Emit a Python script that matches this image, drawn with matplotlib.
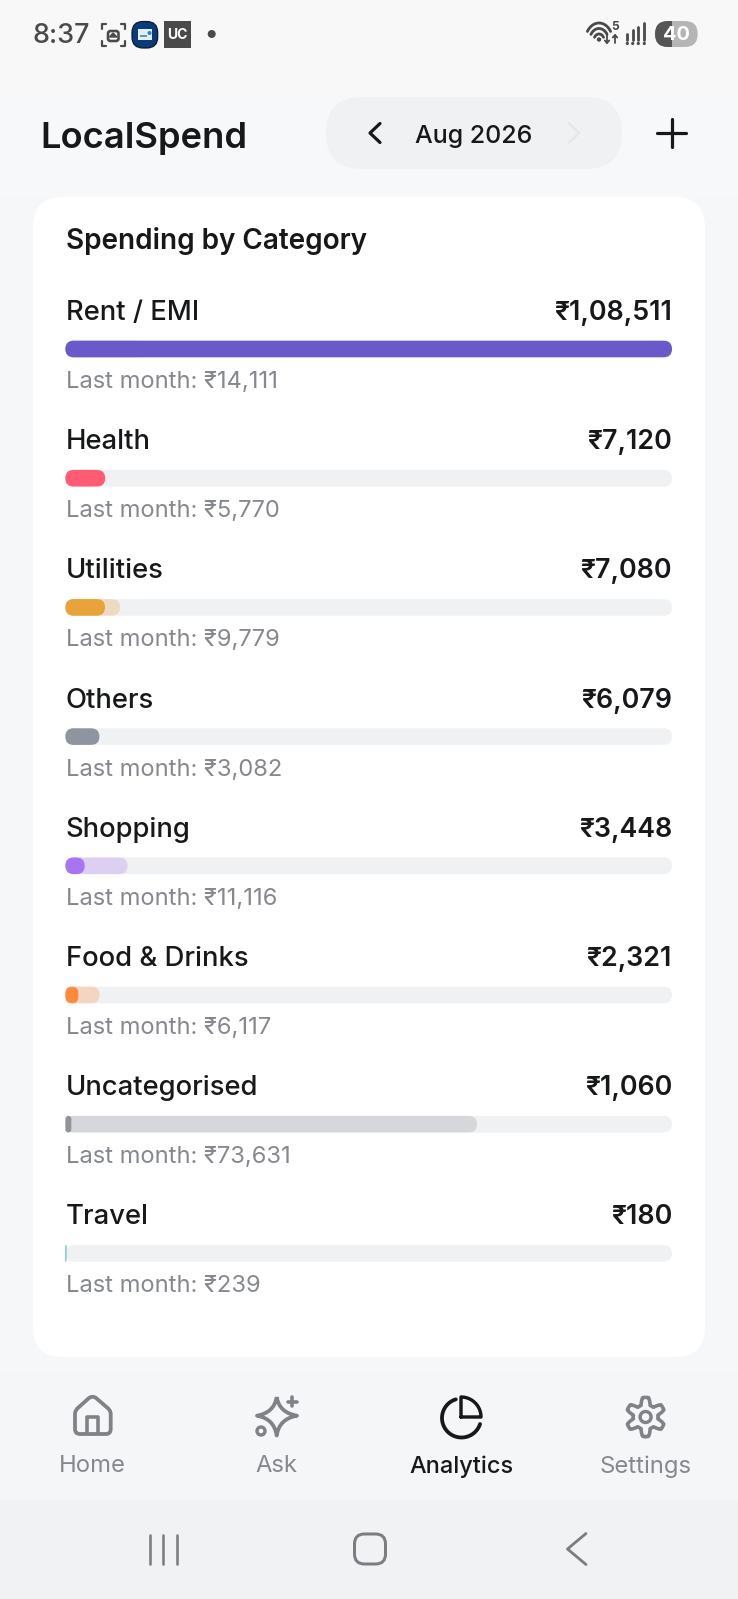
"""
LocalSpend analytics screen, spending by category
"""

import numpy as np
import matplotlib.pyplot as plt
from matplotlib.patches import Circle, FancyBboxPatch, PathPatch, Rectangle
from matplotlib.path import Path

# data
categories = ["Rent / EMI", "Health", "Utilities", "Others", "Shopping",
              "Food & Drinks", "Uncategorised", "Travel"]
this_month = [108511, 7120, 7080, 6079, 3448, 2321, 1060, 180]
last_month = [14111, 5770, 9779, 3082, 11116, 6117, 73631, 239]
bar_colors = ["#6a59c9", "#ff5c73", "#e8a33b", "#8f95a0", "#a974f0",
              "#ff8a3c", "#8f939c", "#5bbfc2"]
nav_labels = ["Home", "Ask", "Analytics", "Settings"]
nav_x = [92, 276.7, 461, 645.6]

W, H = 738, 1599
INK = "#17181a"
GREY = "#85888e"
ICON = "#7f8287"
STATUS = "#4a4a4a"
TRACK = "#f0f1f3"

plt.rcParams["font.family"] = ["Inter", "DejaVu Sans"]


def px(v):
    # pixels to points at dpi 100
    return v * 0.72


def rupee(v):
    # indian digit grouping
    s = str(v)
    if len(s) <= 3:
        return "₹" + s
    head, tail = s[:-3], s[-3:]
    parts = []
    while len(head) > 2:
        parts.insert(0, head[-2:])
        head = head[:-2]
    if head:
        parts.insert(0, head)
    return "₹" + ",".join(parts) + "," + tail


fig = plt.figure(figsize=(W / 100, H / 100), dpi=100, facecolor="#f6f7f9")
ax = fig.add_axes([0, 0, 1, 1])
ax.set_xlim(0, W)
ax.set_ylim(H, 0)
ax.axis("off")


def line(xs, ys, lw=3.5, color=ICON, **kw):
    ax.plot(xs, ys, color=color, lw=px(lw), solid_capstyle="round",
            solid_joinstyle="round", **kw)


# screen background bands
ax.add_patch(Rectangle((0, 0), W, 100, fc="#f8f8f8", ec="none"))
ax.add_patch(Rectangle((0, 100), W, 97, fc="#f7f8f9", ec="none"))
ax.add_patch(Rectangle((0, 1372), W, 128, fc="#f5f6f8", ec="none"))
ax.add_patch(Rectangle((0, 1500), W, 99, fc="#f1f2f4", ec="none"))

# status bar
ax.text(32.5, 36, "8:37", fontsize=px(27), color=STATUS, va="center", weight="medium")
for xs, ys in [([101.5, 101.5, 106], [29, 23.5, 23.5]), ([120.5, 125, 125], [23.5, 23.5, 29]),
               ([101.5, 101.5, 106], [40.5, 46, 46]), ([120.5, 125, 125], [46, 46, 40.5])]:
    line(xs, ys, lw=2.2, color=STATUS)
ax.add_patch(FancyBboxPatch((108, 31), 10.5, 10, boxstyle="round,pad=0,rounding_size=2.5",
                            fc="none", ec=STATUS, lw=px(2.6)))
ax.fill([109.5, 113, 117], [37, 33, 37], color=STATUS)
ax.add_patch(FancyBboxPatch((132, 21.5), 25.7, 26.5, boxstyle="round,pad=0,rounding_size=11",
                            fc="#0b3a78", ec="#0c1626", lw=px(1.2)))
ax.add_patch(Rectangle((138, 29), 14, 11, fc="#e3edf5", ec="none"))
ax.add_patch(Rectangle((140, 35), 7, 2, fc="#5aa0a8", ec="none"))
ax.add_patch(Circle((149.5, 33), 2, fc="#2f7fd0", ec="none"))
ax.add_patch(Rectangle((164, 21), 26.7, 27, fc=STATUS, ec="none"))
ax.text(177.3, 35, "UC", fontsize=px(14), color="white", ha="center", va="center", weight="bold")
ax.add_patch(Circle((211.7, 34), 4, fc=STATUS, ec="none"))

# wifi, signal, battery
for r in [7, 12.5, 18]:
    t = np.linspace(np.radians(-148), np.radians(-32), 24)
    line(599 + r * np.cos(t) * 0.76, 41 + r * np.sin(t), lw=2.8, color=STATUS)
ax.add_patch(Circle((599, 39.5), 2.2, fc=STATUS, ec="none"))
ax.text(615, 27.5, "5", fontsize=px(12), color=STATUS, ha="center", va="center", weight="bold")
line([607, 607], [35, 43], lw=1.8, color=STATUS)
line([604.8, 607, 609.2], [40.5, 43, 40.5], lw=1.8, color=STATUS)
line([615, 615], [35, 43], lw=1.8, color=STATUS)
line([612.8, 615, 617.2], [37.5, 35, 37.5], lw=1.8, color=STATUS)
for x0, y0 in zip([627.3, 632.7, 638.3, 644.3], [34, 30, 27, 23]):
    line([x0, x0], [y0, 39.5], lw=2.8, color=STATUS)
    ax.add_patch(Circle((x0, 43.5), 1.6, fc=STATUS, ec="none"))
pill = FancyBboxPatch((655, 21), 42.7, 26, boxstyle="round,pad=0,rounding_size=13",
                      fc="#b5b5b5", ec="none")
ax.add_patch(pill)
dark = FancyBboxPatch((655, 21), 42.7, 26, boxstyle="round,pad=0,rounding_size=13",
                      fc="#555555", ec="none")
ax.add_patch(dark)
dark.set_clip_path(Rectangle((655, 21), 16.7, 26, transform=ax.transData))
ax.text(676.7, 35.5, "40", fontsize=px(20), color="white", ha="center", va="center", weight="bold")

# header
ax.text(40, 138.5, "LocalSpend", fontsize=px(36.3), color=INK, va="center", weight="semibold")
ax.add_patch(FancyBboxPatch((326, 97), 296, 72, boxstyle="round,pad=0,rounding_size=36",
                            fc="#f0f1f3", ec="none"))
line([380, 370, 380], [123.5, 133, 142.5], lw=3.2, color=INK)
ax.text(473.5, 136, "Aug 2026", fontsize=px(25), color=INK, ha="center", va="center", weight="medium")
line([569, 579, 569], [123.5, 133, 142.5], lw=2.5, color="#e6e7e9")
line([657, 686], [133, 133], lw=3.2, color=INK)
line([671.5, 671.5], [118.5, 147], lw=3.2, color=INK)

# card
ax.add_patch(FancyBboxPatch((33, 197), 672, 1160, boxstyle="round,pad=0,rounding_size=30",
                            fc="white", ec="none"))
ax.text(66, 241, "Spending by Category", fontsize=px(27.9), color=INK, va="center", weight="semibold")

# category rows, x axis in rupees, y axis in row numbers
n = len(categories)
row_px = 129.2
bar_left, bar_right = 65.4, 672
bar_top = 349 - row_px / 2
ax_bars = fig.add_axes([bar_left / W, 1 - (bar_top + n * row_px) / H,
                        (bar_right - bar_left) / W, n * row_px / H])
ax_bars.set_xlim(0, max(this_month))
ax_bars.set_ylim(n - 0.5, -0.5)
ax_bars.axis("off")

x_per_px = max(this_month) / (bar_right - bar_left)
y_per_px = 1 / row_px
aspect = y_per_px / x_per_px
bar_h = 16.6 * y_per_px
text_x = 0.4 * x_per_px


def round_bar(row, value, color, alpha=1.0, zorder=2):
    radius = min(8.3 * x_per_px, value / 2)
    ax_bars.add_patch(FancyBboxPatch(
        (0, row - bar_h / 2), value, bar_h,
        boxstyle=f"round,pad=0,rounding_size={radius}",
        mutation_aspect=aspect, fc=color, ec="none", alpha=alpha, zorder=zorder))


for i, cat in enumerate(categories):
    round_bar(i, max(this_month), TRACK, zorder=1)
    round_bar(i, last_month[i], bar_colors[i], alpha=0.27, zorder=2)
    round_bar(i, this_month[i], bar_colors[i], zorder=3)
    ax_bars.text(text_x, i - 36 * y_per_px, cat, fontsize=px(27.4), color=INK, va="center", weight="medium")
    ax_bars.text(max(this_month), i - 36 * y_per_px, rupee(this_month[i]), fontsize=px(26.8),
                 color=INK, ha="right", va="center", weight="semibold")
    ax_bars.text(text_x, i + 33 * y_per_px, "Last month: " + rupee(last_month[i]), fontsize=px(23.7),
                 color=GREY, va="center")

# bottom navigation
for x0, label in zip(nav_x, nav_labels):
    active = label == "Analytics"
    ax.text(x0, 1466.5, label, fontsize=px(23.5 if active else 23.8), color=INK if active else GREY,
            ha="center", va="center", weight="medium" if active else "normal")

# home icon
M, L, C, Z = Path.MOVETO, Path.LINETO, Path.CURVE3, Path.CLOSEPOLY
house = [(75, 1414), (75, 1410), (79, 1407), (89, 1398), (92.5, 1395.5), (96, 1398),
         (106.5, 1407), (110.7, 1410), (110.7, 1414), (110.7, 1429), (110.7, 1434), (106, 1434),
         (80, 1434), (75, 1434), (75, 1429), (75, 1414)]
house_codes = [M, C, C, L, C, C, L, C, C, L, C, C, L, C, C, Z]
ax.add_patch(PathPatch(Path(house, house_codes), fc="none", ec=ICON, lw=px(3.8), joinstyle="round"))
line([86.7, 86.7, 98.3, 98.3], [1433, 1416.7, 1416.7, 1433], lw=3.6)

# sparkle icon
cx, cy = 276.7, 1415.7
verts = [(cx, 1397), (cx + 2.5, cy - 3), (297, cy), (cx + 2.5, cy + 3), (cx, 1435.5),
         (cx - 2.5, cy + 3), (257, cy), (cx - 2.5, cy - 3), (cx, 1397)]
ax.add_patch(PathPatch(Path(verts, [M] + [C] * 8), fc="none", ec=ICON, lw=px(3.8), joinstyle="round"))
line([292.3, 292.3], [1397.2, 1406.2], lw=3.6)
line([287.8, 296.8], [1401.7, 1401.7], lw=3.6)
ax.add_patch(Circle((261, 1431), 4, fc="none", ec=ICON, lw=px(3.4)))

# pie icon
t = np.radians(np.linspace(-107, -342, 80))
line(461.5 + 19.5 * np.cos(t), 1418 + 19.5 * np.sin(t), lw=3.8, color=INK)
t = np.radians(np.linspace(-90, 0, 30))
line(np.r_[461, 461 + 20 * np.cos(t), 461], np.r_[1417, 1417 + 20 * np.sin(t), 1417], lw=3.4, color=INK)

# gear icon
t = np.linspace(0, 2 * np.pi, 240)
r = 16 + 3.6 * np.clip(1.6 * np.cos(6 * t), -1, 1)
line(645.6 + r * np.sin(t), 1417 + r * np.cos(t), lw=3.6)
ax.add_patch(Circle((645.6, 1417), 5.5, fc="none", ec=ICON, lw=px(3.4)))

# android navigation
NAV = "#7b7d82"
for x0 in [149.6, 163.3, 177]:
    line([x0, x0], [1534.5, 1563.5], lw=2.6, color=NAV)
ax.add_patch(FancyBboxPatch((354.5, 1534), 31, 30, boxstyle="round,pad=0,rounding_size=10",
                            fc="none", ec=NAV, lw=px(3)))
line([586, 567.5, 586], [1533.5, 1549, 1564.5], lw=2.8, color=NAV)

fig.savefig("out.png", dpi=100, facecolor=fig.get_facecolor())
